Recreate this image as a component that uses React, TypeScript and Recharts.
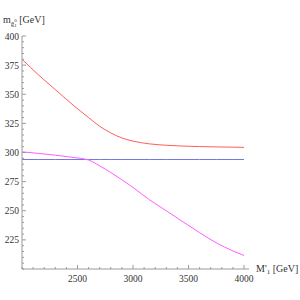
import { LineChart, Line, XAxis, YAxis, Label } from "recharts";

const M1 = [2000, 2150, 2300, 2450, 2600, 2700, 2800, 2900, 3000, 3150, 3300, 3450, 3600, 3750, 3900, 4000];
const RED = [380, 366.5, 354, 341.5, 330, 322.5, 316.8, 312.5, 309.8, 307.4, 306.2, 305.5, 305.1, 304.8, 304.6, 304.4];
const MAGENTA = [300.6, 299.2, 297.7, 295.9, 293.5, 288.5, 282.8, 276.6, 270, 259.3, 250, 240.5, 231.2, 222.5, 215.5, 211.6];
const FLAT = 294;

const X_MAJOR = [2500, 3000, 3500, 4000];
const Y_MAJOR = [225, 250, 275, 300, 325, 350, 375, 400];

const RED_COLOR = "#ff5c5c";
const MAGENTA_COLOR = "#ff5cff";
const FLAT_COLOR = "#7676e0";
const AXIS_COLOR = "#9a9a9a";
const FONT = "Liberation Serif, Times New Roman, serif";

const data = M1.map((m, i) => ({ m, red: RED[i], magenta: MAGENTA[i], flat: FLAT }));

const xTicks: number[] = [];
for (let v = 2000; v <= 4000; v += 100) xTicks.push(v);
const yTicks: number[] = [];
for (let v = 200; v <= 400; v += 5) yTicks.push(v);

function XTick({ x, y, payload }: any) {
  const major = X_MAJOR.includes(payload.value);
  return (
    <g>
      <line x1={x} x2={x} y1={y} y2={y - (major ? 4 : 2)} stroke={AXIS_COLOR} />
      {major && (
        <text x={x} y={y + 13} textAnchor="middle" style={{ fontFamily: FONT, fontSize: 9.5 }} fill="#333">
          {payload.value}
        </text>
      )}
    </g>
  );
}

function YTick({ x, y, payload }: any) {
  const major = Y_MAJOR.includes(payload.value);
  return (
    <g>
      <line x1={x} x2={x + (major ? 4 : 2)} y1={y} y2={y} stroke={AXIS_COLOR} />
      {major && (
        <text x={x - 3} y={y + 3.5} textAnchor="end" style={{ fontFamily: FONT, fontSize: 9.5 }} fill="#333">
          {payload.value}
        </text>
      )}
    </g>
  );
}

export default function App() {
  return (
    <div style={{ position: "absolute", left: 0, top: 0, background: "#fff" }}>
      <LineChart width={300} height={300} data={data} margin={{ top: 36, right: 56, left: 0, bottom: 0 }}>
        <XAxis
          dataKey="m"
          type="number"
          domain={[2000, 4000]}
          ticks={xTicks}
          tick={<XTick />}
          tickLine={false}
          tickSize={0}
          tickMargin={0}
          height={31}
          stroke={AXIS_COLOR}
          interval={0}
        >
          <Label
            content={() => (
              <g>
                <line x1={244} x2={249} y1={269} y2={269} stroke={AXIS_COLOR} />
                <text x={256} y={272} style={{ fontFamily: FONT, fontSize: 10 }} fill="#333">
                  M'<tspan fontSize={7} dy={2}>1</tspan>
                  <tspan dy={-2}> [GeV]</tspan>
                </text>
              </g>
            )}
          />
        </XAxis>
        <YAxis
          type="number"
          domain={[200, 400]}
          ticks={yTicks}
          tick={<YTick />}
          tickLine={false}
          tickSize={0}
          tickMargin={0}
          width={22}
          stroke={AXIS_COLOR}
          interval={0}
        >
          <Label
            content={() => (
              <text x={3} y={23} style={{ fontFamily: FONT, fontSize: 10 }} fill="#333">
                m
                <tspan fontSize={7} dy={3}>g̃</tspan>
                <tspan fontSize={5} dy={1}>1</tspan>
                <tspan fontSize={5} dx={-2.5} dy={-5}>0</tspan>
                <tspan dy={1}> [GeV]</tspan>
              </text>
            )}
          />
        </YAxis>
        <Line dataKey="flat" stroke={FLAT_COLOR} strokeWidth={1} dot={false} isAnimationActive={false} type="linear" />
        <Line dataKey="red" stroke={RED_COLOR} strokeWidth={1} dot={false} isAnimationActive={false} type="monotone" />
        <Line dataKey="magenta" stroke={MAGENTA_COLOR} strokeWidth={1} dot={false} isAnimationActive={false} type="monotone" />
      </LineChart>
    </div>
  );
}
